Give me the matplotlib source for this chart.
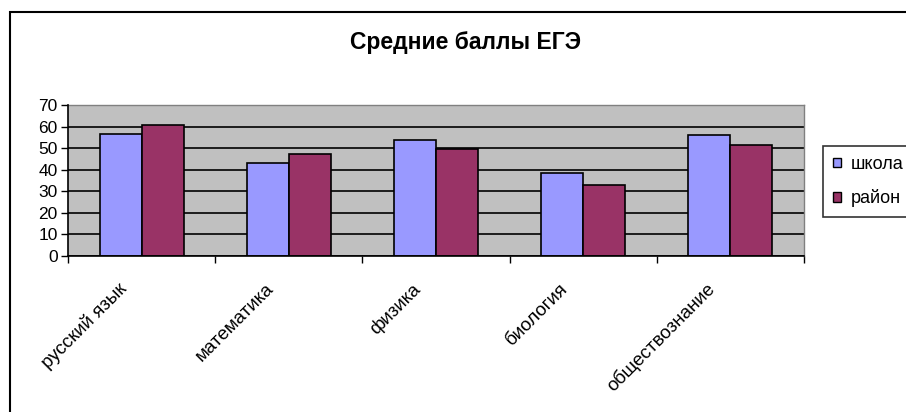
import matplotlib
matplotlib.use("Agg")
import matplotlib.pyplot as plt
import numpy as np
from matplotlib.patches import Patch, Rectangle
from matplotlib.transforms import ScaledTranslation

categories = ["русский язык", "математика", "физика", "биология", "обществознание"]
school = [56.7, 43.3, 53.6, 38.3, 56.1]
district = [60.8, 47.3, 49.7, 33.1, 51.3]
series_names = ["школа", "район"]
yticks = [0, 10, 20, 30, 40, 50, 60, 70]

plt.rcParams['font.family'] = ['Liberation Sans', 'DejaVu Sans']

fig = plt.figure(figsize=(9.06, 4.12), dpi=100)
ax = fig.add_axes([68/906, 1-256/412, (804-68)/906, (256-105)/412])

x = np.arange(len(categories))
w = 0.2857
ax.set_facecolor('#C0C0C0')
ax.bar(x - w/2, school, width=w, color='#9999FF', edgecolor='black', linewidth=1.2, zorder=3)
ax.bar(x + w/2, district, width=w, color='#993366', edgecolor='black', linewidth=1.2, zorder=3)

ax.set_xlim(-0.5, len(categories) - 0.5)
ax.set_ylim(0, 70)
ax.set_yticks(yticks)
ax.set_yticklabels([str(v) for v in yticks], fontsize=12.5)
ax.yaxis.grid(True, color='black', linewidth=1.2, zorder=1)
ax.set_axisbelow(True)
ax.tick_params(axis='y', direction='out', length=5, width=1, pad=2.5)

ax.set_xticks(x)
ax.set_xticklabels(categories, rotation=45, ha='right', va='center',
                   rotation_mode='anchor', fontsize=13.5)
ax.tick_params(axis='x', which='major', length=0, pad=22)
off = ScaledTranslation(-18/100, 0, fig.dpi_scale_trans)
for lab in ax.get_xticklabels():
    lab.set_transform(lab.get_transform() + off)
ax.set_xticks(np.arange(-0.5, len(categories)), minor=True)
ax.tick_params(axis='x', which='minor', direction='out', length=5, width=1)

for s in ['left', 'bottom']:
    ax.spines[s].set_color('black')
    ax.spines[s].set_linewidth(1.2)
    ax.spines[s].set_zorder(4)
for s in ['top', 'right']:
    ax.spines[s].set_color('#808080')
    ax.spines[s].set_linewidth(1)

fig.text(466/906, 1-43/412, "Средние баллы ЕГЭ", ha='center', va='center',
         fontsize=16.5, fontweight='bold')

handles = [Patch(facecolor='#9999FF', edgecolor='black'),
           Patch(facecolor='#993366', edgecolor='black')]
leg = fig.legend(handles, series_names, loc='upper left',
                 bbox_to_anchor=(823/906, 1-146/412), fontsize=13,
                 frameon=True, fancybox=False, edgecolor='black',
                 handlelength=0.45, handleheight=0.45, handletextpad=0.55,
                 borderpad=0.55, labelspacing=0.9, borderaxespad=0)
leg.get_frame().set_linewidth(1.2)

fig.patches.append(Rectangle((10/906, -0.5), 2, 1.5 - 12/412, transform=fig.transFigure,
                             fill=False, edgecolor='black', linewidth=1.5))

fig.savefig("out.png", dpi=100)
